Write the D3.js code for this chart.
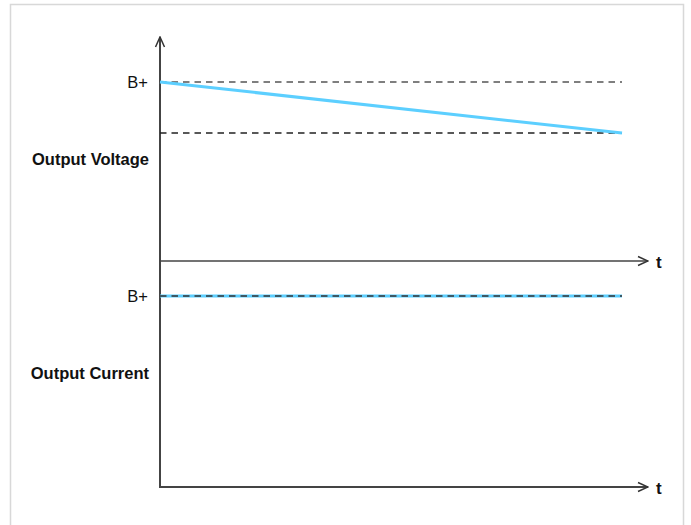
<!DOCTYPE html>
<html>
<head>
<meta charset="utf-8">
<script src="https://cdn.jsdelivr.net/npm/d3@7"></script>
<style>
  body { margin: 0; background: #fff; }
  text { font-family: "Liberation Sans", Arial, Helvetica, sans-serif; }
</style>
</head>
<body>
<script>
// values, in units of B+
const timeSpan = [0, 1]
const voltageTimes = [0, 1]
const voltageValues = [1, 0.715]
const voltageRefs = [1, 0.715]
const currentTimes = [0, 1]
const currentValues = [1, 1]
const panelLabels = ["Output Voltage", "Output Current"]

const w = 691
const h = 525

const svg = d3.select("body")
  .append("svg")
  .attr("width", w)
  .attr("height", h)

// light frame round the figure
svg.append("path")
  .attr("d", "M10.5," + h + "V4.5H683.5V" + h)
  .attr("fill", "none")
  .attr("stroke", "#d8d8d8")
  .attr("stroke-width", 1.5)

const xScale = d3.scaleLinear().domain(timeSpan).range([160, 622])
const xAxisEnd = 648
const yV = d3.scaleLinear().domain([0, 1]).range([261, 82])
const yI = d3.scaleLinear().domain([0, 1]).range([487, 296])

svg.append("defs").append("marker")
  .attr("id", "arrow")
  .attr("viewBox", "0 0 12 12")
  .attr("refX", 11)
  .attr("refY", 6)
  .attr("markerWidth", 12)
  .attr("markerHeight", 12)
  .attr("markerUnits", "userSpaceOnUse")
  .attr("orient", "auto")
  .append("path")
  .attr("d", "M1,1.5L11,6L1,10.5")
  .attr("fill", "none")
  .attr("stroke", "#333")
  .attr("stroke-width", 1.5)

const axisColor = "#444"

// vertical axis
svg.append("line")
  .attr("x1", xScale(0)).attr("x2", xScale(0))
  .attr("y1", yI(0)).attr("y2", 37)
  .attr("stroke", axisColor)
  .attr("stroke-width", 2)
  .attr("marker-end", "url(#arrow)")

// time axes
const drawTimeAxis = function (y) {
  svg.append("line")
    .attr("x1", xScale(0) - 1).attr("x2", xAxisEnd)
    .attr("y1", y).attr("y2", y)
    .attr("stroke", axisColor)
    .attr("stroke-width", y === yI(0) ? 2 : 1.5)
    .attr("marker-end", "url(#arrow)")
  svg.append("text")
    .attr("x", 656)
    .attr("y", y + 7)
    .attr("font-size", 17)
    .attr("font-weight", "bold")
    .attr("fill", "#111")
    .text("t")
}
drawTimeAxis(yV(0))
drawTimeAxis(yI(0))

// reference dashes in the voltage panel
svg.selectAll(".vref")
  .data(voltageRefs)
  .enter()
  .append("line")
  .attr("class", "vref")
  .attr("x1", xScale(0)).attr("x2", xScale(1))
  .attr("y1", (d) => yV(d)).attr("y2", (d) => yV(d))
  .attr("stroke", (d, i) => i === 0 ? "#555" : "#222")
  .attr("stroke-width", 1.6)
  .attr("stroke-dasharray", "6.5,5")

const line = d3.line()
  .x((d) => xScale(d[0]))

svg.append("path")
  .datum(d3.zip(voltageTimes, voltageValues))
  .attr("d", line.y((d) => yV(d[1])))
  .attr("fill", "none")
  .attr("stroke", "#5ccfff")
  .attr("stroke-width", 3)

svg.append("path")
  .datum(d3.zip(currentTimes, currentValues))
  .attr("d", line.y((d) => yI(d[1])))
  .attr("fill", "none")
  .attr("stroke", "#5ccfff")
  .attr("stroke-width", 3)

svg.append("line")
  .attr("x1", xScale(0)).attr("x2", xScale(1))
  .attr("y1", yI(1)).attr("y2", yI(1))
  .attr("stroke", "#333")
  .attr("stroke-width", 1.5)
  .attr("stroke-dasharray", "6.5,5")

// labels
svg.selectAll(".bplus")
  .data([yV(1), yI(1)])
  .enter()
  .append("text")
  .attr("class", "bplus")
  .attr("x", 148)
  .attr("y", (d) => d + 6)
  .attr("text-anchor", "end")
  .attr("font-size", 16.5)
  .attr("fill", "#111")
  .text("B+")

svg.selectAll(".panel")
  .data(panelLabels)
  .enter()
  .append("text")
  .attr("class", "panel")
  .attr("x", 149)
  .attr("y", (d, i) => i === 0 ? 165 : 379)
  .attr("text-anchor", "end")
  .attr("font-size", 16.5)
  .attr("font-weight", "bold")
  .attr("fill", "#111")
  .text((d) => d)
</script>
</body>
</html>
